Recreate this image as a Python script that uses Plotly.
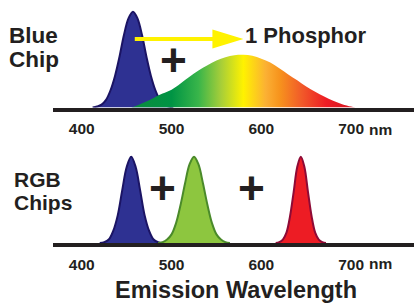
import plotly.graph_objects as go

# ---------------- data ----------------
# Top panel: blue chip + one broad phosphor
wl_blue_chip = [412, 417, 422, 427, 432, 437, 442, 447, 452, 457, 462, 467, 472, 477, 482, 487, 492, 497, 502]
int_blue_chip = [0.0, 0.01, 0.03, 0.08, 0.18, 0.33, 0.53, 0.76, 0.93, 1.0, 0.93, 0.76, 0.53, 0.33, 0.18, 0.08, 0.03, 0.01, 0.0]

wl_phosphor = [455, 460, 470, 480, 490, 500, 510, 520, 530, 540, 550, 560, 570, 580, 590,
               600, 610, 620, 630, 640, 650, 660, 670, 680, 690, 700, 705]
int_phosphor = [0.0, 0.015, 0.055, 0.10, 0.145, 0.185, 0.25, 0.32, 0.385, 0.44, 0.49, 0.525, 0.545, 0.55, 0.54,
                0.51, 0.47, 0.41, 0.345, 0.285, 0.22, 0.165, 0.115, 0.07, 0.035, 0.01, 0.0]

# Bottom panel: RGB chips
wl_rgb_blue = [420, 425, 430, 435, 440, 445, 450, 455, 460, 465, 470, 475, 480, 485, 490]
int_rgb_blue = [0.0, 0.01, 0.04, 0.14, 0.32, 0.61, 0.88, 1.0, 0.88, 0.61, 0.32, 0.14, 0.04, 0.01, 0.0]

wl_rgb_green = [485, 490, 495, 500, 505, 510, 515, 520, 525, 530, 535, 540, 545, 550, 555, 560, 565]
int_rgb_green = [0.0, 0.01, 0.04, 0.10, 0.23, 0.44, 0.69, 0.91, 1.0, 0.91, 0.69, 0.44, 0.23, 0.10, 0.04, 0.01, 0.0]

wl_rgb_red = [616, 620, 624, 628, 632, 636, 640, 644, 648, 652, 656, 660, 664, 668, 672]
int_rgb_red = [0.0, 0.01, 0.04, 0.12, 0.31, 0.59, 0.88, 1.0, 0.88, 0.59, 0.31, 0.12, 0.04, 0.01, 0.0]

tick_vals = [400, 500, 600, 700]
tick_text = ["400", "500", "600", "700"]
unit_label = "nm"
top_labels = ["Blue", "Chip"]
bottom_labels = ["RGB", "Chips"]
phosphor_label = "1 Phosphor"
axis_title = "Emission Wavelength"

# ---------------- styling ----------------
W, H = 414, 305
FONT = "Liberation Sans, Arial, sans-serif"
INK = "#231f20"
X_RANGE = [367.9, 770.1]
X_DOMAIN = [53 / W, 1]


def py(px):
    """pixel row -> paper y"""
    return 1 - px / H


fig = go.Figure()

# top panel
fig.add_trace(go.Scatter(x=wl_blue_chip, y=int_blue_chip, mode="lines", line_shape="spline",
                         line=dict(color="#1b1464", width=2), fill="tozeroy", fillcolor="#2e3192",
                         xaxis="x", yaxis="y", hoverinfo="skip"))
fig.add_trace(go.Scatter(x=wl_phosphor, y=int_phosphor, mode="lines", line_shape="spline",
                         line=dict(width=0), fill="tozeroy",
                         fillgradient=dict(type="horizontal", start=min(wl_phosphor), stop=max(wl_phosphor),
                                           colorscale=[[0.0, "#0b8a3e"], [0.18, "#009444"], [0.30, "#39b54a"],
                                                       [0.40, "#a6ce39"], [0.50, "#fff200"], [0.60, "#fbb034"],
                                                       [0.66, "#f7941d"], [0.76, "#f15a29"], [0.87, "#ed1c24"],
                                                       [1.0, "#d2141f"]]),
                         xaxis="x", yaxis="y", hoverinfo="skip"))

# bottom panel
fig.add_trace(go.Scatter(x=wl_rgb_blue, y=int_rgb_blue, mode="lines", line_shape="spline",
                         line=dict(color="#1b1464", width=2), fill="tozeroy", fillcolor="#2e3192",
                         xaxis="x2", yaxis="y2", hoverinfo="skip"))
fig.add_trace(go.Scatter(x=wl_rgb_green, y=int_rgb_green, mode="lines", line_shape="spline",
                         line=dict(color="#4a8a2a", width=2), fill="tozeroy", fillcolor="#8dc63f",
                         xaxis="x2", yaxis="y2", hoverinfo="skip"))
fig.add_trace(go.Scatter(x=wl_rgb_red, y=int_rgb_red, mode="lines", line_shape="spline",
                         line=dict(color="#8e0a36", width=2), fill="tozeroy", fillcolor="#ed1c24",
                         xaxis="x2", yaxis="y2", hoverinfo="skip"))

axis_common = dict(range=X_RANGE, domain=X_DOMAIN, showline=True, linewidth=4, linecolor=INK,
                   showgrid=False, zeroline=False, ticks="", tickvals=tick_vals,
                   ticktext=[f"<b>{t}</b>" for t in tick_text], ticklabelstandoff=4,
                   tickfont=dict(family=FONT, size=15.5, color=INK), fixedrange=True)

fig.update_layout(
    width=W, height=H, margin=dict(l=0, r=0, t=0, b=0),
    paper_bgcolor="white", plot_bgcolor="rgba(0,0,0,0)", showlegend=False,
    xaxis=dict(anchor="y", **axis_common),
    xaxis2=dict(anchor="y2", **axis_common),
    yaxis=dict(domain=[py(107.5), py(5)], range=[0, 1.07], visible=False, fixedrange=True),
    yaxis2=dict(domain=[py(243), py(150)], range=[0, 1.0777], visible=False, fixedrange=True),
)

# yellow arrow from blue peak to phosphor peak
x0 = wl_blue_chip[int_blue_chip.index(max(int_blue_chip))] + 2
x_tip = wl_phosphor[int_phosphor.index(max(int_phosphor))]
x_head = x_tip - 34.5
yc, half_shaft, half_head = 0.715, 0.021, 0.099
path = (f"M {x0},{yc - half_shaft} L {x_head},{yc - half_shaft} L {x_head},{yc - half_head} "
        f"L {x_tip},{yc} L {x_head},{yc + half_head} L {x_head},{yc + half_shaft} L {x0},{yc + half_shaft} Z")
fig.add_shape(type="path", path=path, xref="x", yref="y", fillcolor="#fff200", line=dict(width=0))


def label(text, x_px, y_px, size, anchor="left", bold=True):
    fig.add_annotation(text=f"<b>{text}</b>" if bold else text, xref="paper", yref="paper",
                       x=x_px / W, y=py(y_px), xanchor=anchor, yanchor="middle", showarrow=False,
                       font=dict(family=FONT, size=size, color=INK))


label(top_labels[0], 7, 35, 22.5)
label(top_labels[1], 7, 59, 22.5)
label(bottom_labels[0], 12, 179.5, 21)
label(bottom_labels[1], 12, 202, 21)
label(phosphor_label, 243, 36, 22)
label(axis_title, 236, 290, 23.5, anchor="center")
label("+", 173, 60, 46, anchor="center")
label("+", 162, 188, 46, anchor="center")
label("+", 251.7, 187.5, 46, anchor="center")

# unit next to the 700 tick
for ypx in (129, 263):
    fig.add_annotation(text=f"<b>{unit_label}</b>", xref="x", x=tick_vals[-1], xshift=16, yref="paper",
                       y=py(ypx), xanchor="left", yanchor="middle", showarrow=False,
                       font=dict(family=FONT, size=15.5, color=INK))

fig.write_html("out.html", config={"displayModeBar": False, "staticPlot": True},
               post_script="document.body.style.margin='0';")
